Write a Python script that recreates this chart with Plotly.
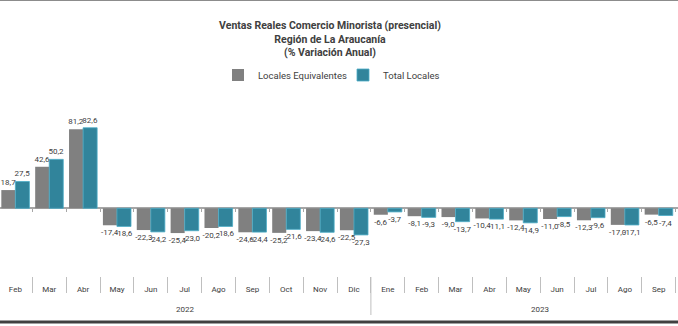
import plotly.graph_objects as go

year_labels = ["2022", "2023"]
year_counts = [11, 10]
months = ["Feb", "Mar", "Abr", "May", "Jun", "Jul", "Ago", "Sep", "Oct", "Nov", "Dic",
          "Ene", "Feb", "Mar", "Abr", "May", "Jun", "Jul", "Ago", "Sep", "Oct"]
locales_equivalentes = [18.7, 42.6, 81.2, -17.4, -22.3, -25.4, -20.2, -24.6, -25.2, -23.4, -22.5,
                        -6.6, -8.1, -9.0, -10.4, -12.4, -11.0, -12.3, -17.0, -6.5, -5.8]
total_locales = [27.5, 50.2, 82.6, -18.6, -24.2, -23.0, -18.6, -24.4, -21.6, -24.6, -27.3,
                 -3.7, -9.3, -13.7, -11.1, -14.9, -8.5, -9.6, -17.1, -7.4, -6.2]

W, H = 678, 326
FONT = "Roboto"
TXT = "#404040"

idx = list(range(len(months)))
bounds = [i + 0.5 for i in idx]

def fmt(vals):
    return [f"{v:.1f}".replace(".", ",") for v in vals]

fig = go.Figure()
fig.add_trace(go.Bar(
    x=idx, y=locales_equivalentes, name="Locales Equivalentes",
    marker=dict(color="#808080", line=dict(width=0)),
    text=fmt(locales_equivalentes), textposition="outside", textangle=0,
    constraintext="none", cliponaxis=True,
    textfont=dict(family=FONT, size=8, color=TXT),
))
fig.add_trace(go.Bar(
    x=idx, y=total_locales, name="Total Locales",
    marker=dict(color="#31849B", line=dict(width=0.8, color="#4BACC6")),
    text=fmt(total_locales), textposition="outside", textangle=0,
    constraintext="none", cliponaxis=True,
    textfont=dict(family=FONT, size=8, color=TXT),
))
# invisible trace to carry the small ticks on the zero line (xaxis2)
fig.add_trace(go.Scatter(x=[idx[0]], y=[0], xaxis="x2", yaxis="y", mode="markers",
                         marker=dict(opacity=0), showlegend=False, hoverinfo="skip"))

ppu = 0.975
top_px, bot_px, zero_px = 100, 276, 208.3
y_top = (zero_px - top_px) / ppu
y_bot = -(bot_px - zero_px) / ppu
xr = [-0.454, 19.57]

annotations = []
start = 0
for lab, n in zip(year_labels, year_counts):
    annotations.append(dict(
        text=lab, x=start + (n - 1) / 2, xref="x", y=1 - 309 / H, yref="paper",
        showarrow=False, xanchor="center", yanchor="middle",
        font=dict(family=FONT, size=8, color=TXT)))
    start += n

shapes = [
    dict(type="line", xref="paper", yref="paper", x0=0, x1=1, y0=1 - 0.5 / H, y1=1 - 0.5 / H,
         line=dict(color="#8C8C8C", width=1)),
    dict(type="line", xref="paper", yref="paper", x0=0, x1=1, y0=4 / H, y1=4 / H,
         line=dict(color="#404040", width=3)),
    dict(type="line", xref="x", yref="paper", x0=year_counts[0] - 0.5, x1=year_counts[0] - 0.5,
         y0=1 - 277 / H, y1=1 - 315 / H, line=dict(color="#BFBFBF", width=1)),
]

fig.update_layout(
    width=W, height=H,
    margin=dict(l=0, r=0, t=0, b=0),
    paper_bgcolor="white", plot_bgcolor="white",
    barmode="group", bargap=0.17, bargroupgap=0.0,
    font=dict(family=FONT, color=TXT),
    title=dict(
        text="<b>Ventas Reales Comercio Minorista (presencial)<br>Región de La Araucanía<br>(% Variación Anual)</b>",
        x=330 / W, xanchor="center", y=1 - 29 / H, yanchor="middle",
        font=dict(family=FONT, size=10.5, color="#404040"),
    ),
    legend=dict(
        orientation="h", x=218 / W, xanchor="left", y=1 - 75 / H, yanchor="middle",
        font=dict(family=FONT, size=9.5, color="#404040"), bgcolor="rgba(0,0,0,0)",
        itemwidth=30, entrywidth=80, entrywidthmode="pixels",
    ),
    xaxis=dict(
        range=xr, showgrid=False, showline=False, zeroline=False,
        tickmode="array", tickvals=idx, ticktext=months, ticks="",
        ticklabelstandoff=7,
        tickfont=dict(family=FONT, size=8, color=TXT),
        minor=dict(tickmode="array", tickvals=bounds, ticks="outside", ticklen=16,
                   tickcolor="#BFBFBF", tickwidth=1, showgrid=False),
    ),
    xaxis2=dict(
        range=xr, overlaying="x", anchor="free", position=(H - zero_px) / H, side="bottom",
        showgrid=False, showline=False, zeroline=False, showticklabels=False,
        tickmode="array", tickvals=bounds, ticks="outside", ticklen=3,
        tickcolor="#A6A6A6", tickwidth=1,
    ),
    yaxis=dict(
        range=[y_bot, y_top], domain=[(H - bot_px) / H, (H - top_px) / H],
        showgrid=False, showticklabels=False, ticks="", showline=False,
        zeroline=True, zerolinecolor="#A6A6A6", zerolinewidth=1.5,
    ),
    annotations=annotations,
    shapes=shapes,
)

fig.write_html("out.html")
